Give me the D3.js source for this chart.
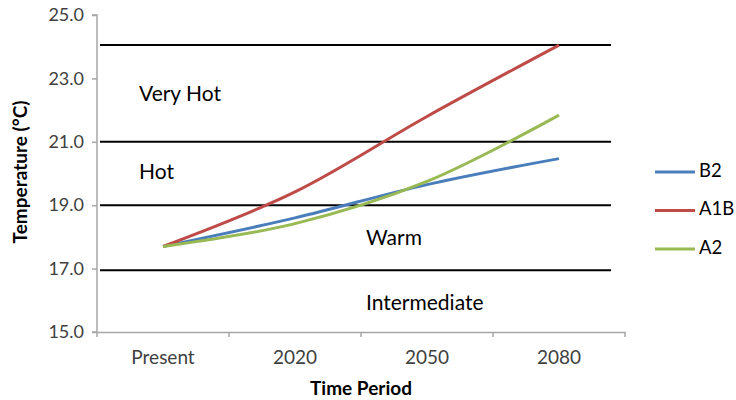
<!DOCTYPE html>
<html><head><meta charset="utf-8">
<script src="https://cdn.jsdelivr.net/npm/d3@7"></script>
<style>body{margin:0;background:#fff}svg{display:block}</style>
</head><body>
<script>
const categories = ["Present", "2020", "2050", "2080"];
const seriesNames = ["B2", "A1B", "A2"];
const b2Values = [17.7, 18.6, 19.65, 20.47];
const a1bValues = [17.7, 19.42, 21.8, 24.05];
const a2Values = [17.7, 18.42, 19.75, 21.84];
const seriesColors = ["#4a7ebb", "#be4b48", "#98b954"];
const yTicks = [15, 17, 19, 21, 23, 25];
const thresholds = [24.05, 21, 19, 16.95];
const zoneLabels = [
  {text: "Very Hot", cat: 0, value: 22.44},
  {text: "Hot", cat: 0, value: 19.98},
  {text: "Warm", cat: 1, value: 17.9},
  {text: "Intermediate", cat: 1, value: 15.85}
];

const W = 736, H = 400;
const m = {left: 97, top: 15, right: 111, bottom: 68};
const svg = d3.select("body").append("svg").attr("width", W).attr("height", H);
const x = d3.scaleBand().domain(categories).range([m.left, W - m.right]);
const y = d3.scaleLinear().domain([15, 25]).range([H - m.bottom, m.top]);
const font = "Lato, 'Open Sans', sans-serif";

// threshold lines
svg.selectAll("line.th").data(thresholds).enter().append("line")
  .attr("x1", m.left + 3).attr("x2", 611)
  .attr("y1", d => y(d)).attr("y2", d => y(d))
  .attr("stroke", "#000").attr("stroke-width", 2);

// axes
const yAxis = d3.axisLeft(y).tickValues(yTicks).tickFormat(d3.format(".1f")).tickSize(5).tickPadding(8);
const gy = svg.append("g").attr("transform", `translate(${m.left},0)`).call(yAxis);
const xAxis = d3.axisBottom(x).tickSize(0).tickPadding(19);
const gx = svg.append("g").attr("transform", `translate(0,${H - m.bottom})`).call(xAxis);
// x ticks at band boundaries
const bounds = categories.map(c => x(c)).concat([x.range()[1]]);
gx.selectAll("line.bt").data(bounds).enter().append("line").attr("class", "bt")
  .attr("x1", d => d).attr("x2", d => d).attr("y1", 0).attr("y2", 5);
[gx, gy].forEach(g => {
  g.selectAll("path.domain").attr("stroke", "#a6a6a6").attr("stroke-width", 1.5);
  g.selectAll("line").attr("stroke", "#a6a6a6").attr("stroke-width", 1.5);
  g.selectAll("text").attr("font-family", font).attr("font-size", 18).attr("fill", "#404040");
});
gx.selectAll("text").attr("font-size", 19);
gy.select("path.domain").attr("d", `M-5,${y(25)}H0V${y(15)}H-5`);

// zone labels
svg.selectAll("text.zone").data(zoneLabels).enter().append("text")
  .attr("x", d => x(categories[d.cat]) + (d.cat === 0 ? 42 : 137)).attr("y", d => y(d.value))
  .attr("dominant-baseline", "middle")
  .attr("font-family", font).attr("font-size", 21).attr("fill", "#000")
  .text(d => d.text);

// series lines
const allSeries = [b2Values, a1bValues, a2Values];
const line = d3.line().x((d, i) => x(categories[i]) + x.bandwidth() / 2).y(d => y(d)).curve(d3.curveCatmullRom);
allSeries.forEach((vals, i) => {
  svg.append("path").datum(vals).attr("d", line).attr("fill", "none")
    .attr("stroke", seriesColors[i]).attr("stroke-width", 3).attr("stroke-linejoin", "round");
});

// legend
const leg = svg.append("g");
seriesNames.forEach((n, i) => {
  const ly = 172 + i * 38.5;
  leg.append("line").attr("x1", 655).attr("x2", 695).attr("y1", ly).attr("y2", ly)
    .attr("stroke", seriesColors[i]).attr("stroke-width", 3);
  leg.append("text").attr("x", 699).attr("y", ly).attr("dominant-baseline", "middle")
    .attr("font-family", font).attr("font-size", 18.5).attr("fill", "#000").text(n);
});

// axis titles
svg.append("text").attr("transform", `translate(22,172) rotate(-90)`)
  .attr("text-anchor", "middle").attr("dominant-baseline", "middle")
  .attr("font-family", font).attr("font-weight", "bold").attr("font-size", 19).text("Temperature (°C)");
svg.append("text").attr("x", (m.left + W - m.right) / 2).attr("y", 390)
  .attr("text-anchor", "middle").attr("dominant-baseline", "middle")
  .attr("font-family", font).attr("font-weight", "bold").attr("font-size", 19).text("Time Period");
</script>
</body></html>
